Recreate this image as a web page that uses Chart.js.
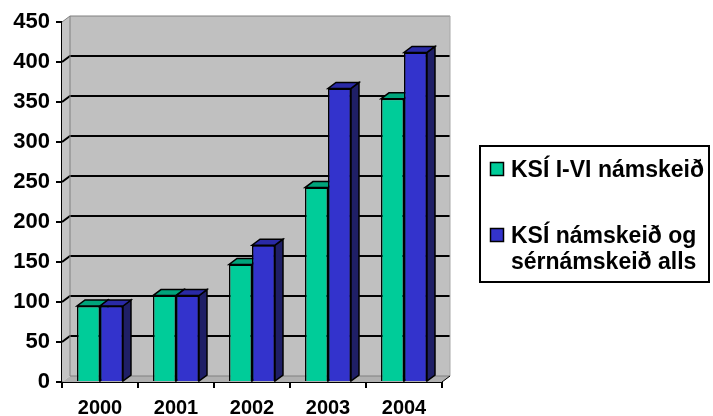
<!DOCTYPE html>
<html>
<head>
<meta charset="utf-8">
<script src="https://cdn.jsdelivr.net/npm/chart.js@4.4.0/dist/chart.umd.min.js"></script>
<style>
  body { margin: 0; background: #fff; }
  canvas { display: block; }
</style>
</head>
<body>
<canvas id="chart" width="713" height="416"></canvas>
<script>
const years = ["2000", "2001", "2002", "2003", "2004"];
const ksiBasic = [95, 108, 147, 243, 354];
const ksiTotal = [95, 108, 171, 367, 412];
const seriesNames = ["KSÍ I-VI námskeið", ["KSÍ námskeið og", "sérnámskeið alls"]];

const frontColors = ["#00CC99", "#3333CC"];
const topColors = ["#00A47B", "#2A2AA6"];
const sideColors = ["#007A5C", "#1F1F66"];

const DX = 8; // 3d depth
const DY = 6;
const FONT = "Arial, 'Liberation Sans', sans-serif";

function poly(ctx, pts, fill, stroke, lw) {
  ctx.beginPath();
  ctx.moveTo(pts[0][0], pts[0][1]);
  for (let i = 1; i < pts.length; i++) ctx.lineTo(pts[i][0], pts[i][1]);
  ctx.closePath();
  if (fill) { ctx.fillStyle = fill; ctx.fill(); }
  if (stroke) { ctx.strokeStyle = stroke; ctx.lineWidth = lw || 1; ctx.stroke(); }
}

function faces(ctx, bar, k) {
  const l = bar.x - bar.width / 2;
  const r = bar.x + bar.width / 2;
  const t = bar.y;
  const b = bar.base;
  poly(ctx, [[r, t], [r + DX, t - DY], [r + DX, b - DY], [r, b]], sideColors[k], "#000", 1.5);
  poly(ctx, [[l, t], [r, t], [r + DX, t - DY], [l + DX, t - DY]], topColors[k], "#000", 1.5);
}

// walls, floor and grid lines on the back wall
const wallsPlugin = {
  id: "walls",
  beforeDatasetsDraw(chart) {
    const { ctx, chartArea: a, scales } = chart;
    const y = scales.y;
    ctx.save();
    poly(ctx, [[a.left + DX, a.top - DY], [a.right + DX, a.top - DY], [a.right + DX, a.bottom - DY], [a.left + DX, a.bottom - DY]], "#C0C0C0");
    poly(ctx, [[a.left, a.top], [a.left + DX, a.top - DY], [a.left + DX, a.bottom - DY], [a.left, a.bottom]], "#C4C4C4");
    poly(ctx, [[a.left, a.bottom], [a.right, a.bottom], [a.right + DX, a.bottom - DY], [a.left + DX, a.bottom - DY]], "#B0B0B0");

    y.ticks.forEach((t) => {
      const py = y.getPixelForValue(t.value);
      if (t.value === 0 || t.value === y.max) return;
      ctx.beginPath();
      ctx.moveTo(a.left, py);
      ctx.lineTo(a.left + DX, py - DY);
      ctx.lineTo(a.right + DX, py - DY);
      ctx.strokeStyle = "#000";
      ctx.lineWidth = 2;
      ctx.stroke();
    });

    // wall edges
    ctx.strokeStyle = "#808080";
    ctx.lineWidth = 1;
    ctx.beginPath();
    ctx.moveTo(a.left, a.top);
    ctx.lineTo(a.left + DX, a.top - DY);
    ctx.lineTo(a.right + DX, a.top - DY);
    ctx.moveTo(a.left + DX, a.top - DY);
    ctx.lineTo(a.left + DX, a.bottom - DY);
    ctx.lineTo(a.right + DX, a.bottom - DY);
    ctx.stroke();
    ctx.strokeStyle = "#A8A8A8";
    ctx.beginPath();
    ctx.moveTo(a.right + DX, a.top - DY);
    ctx.lineTo(a.right + DX, a.bottom - DY);
    ctx.stroke();
    ctx.strokeStyle = "#000";
    ctx.beginPath();
    ctx.moveTo(a.right, a.bottom);
    ctx.lineTo(a.right + DX, a.bottom - DY);
    ctx.stroke();
    ctx.restore();
  },
  // top and side faces; blue front is redrawn so it sits over the green side
  afterDatasetsDraw(chart) {
    const { ctx } = chart;
    const green = chart.getDatasetMeta(0).data;
    const blue = chart.getDatasetMeta(1).data;
    ctx.save();
    green.forEach((g, n) => {
      faces(ctx, g, 0);
      blue[n].draw(ctx);
      faces(ctx, blue[n], 1);
    });
    ctx.restore();
  },
  afterDraw(chart) {
    const { ctx } = chart;
    ctx.save();
    ctx.fillStyle = "#fff";
    ctx.fillRect(480, 146, 229, 136);
    ctx.strokeStyle = "#000";
    ctx.lineWidth = 2;
    ctx.strokeRect(480, 146, 229, 136);
    ctx.font = "bold 23px " + FONT;
    ctx.textBaseline = "alphabetic";
    const boxTops = [162, 228];
    seriesNames.forEach((name, k) => {
      ctx.fillStyle = frontColors[k];
      ctx.fillRect(490.5, boxTops[k] + 0.5, 13, 13);
      ctx.lineWidth = 1.5;
      ctx.strokeRect(490.5, boxTops[k] + 0.5, 13, 13);
      ctx.fillStyle = "#000";
      const lines = Array.isArray(name) ? name : [name];
      lines.forEach((ln, j) => ctx.fillText(ln, 511, boxTops[k] + 15 + j * 26));
    });
    ctx.restore();
  },
};

new Chart(document.getElementById("chart"), {
  type: "bar",
  data: {
    labels: years,
    datasets: [
      {
        label: seriesNames[0],
        data: ksiBasic,
        backgroundColor: frontColors[0],
        borderColor: "#000",
        borderWidth: 1.5,
        categoryPercentage: 0.605,
        barPercentage: 1,
      },
      {
        label: seriesNames[1].join(" "),
        data: ksiTotal,
        backgroundColor: frontColors[1],
        borderColor: "#000",
        borderWidth: 1.5,
        categoryPercentage: 0.605,
        barPercentage: 1,
      },
    ],
  },
  options: {
    responsive: false,
    animation: false,
    layout: { padding: { top: 22, right: 271, left: 0, bottom: 0 } },
    plugins: {
      legend: { display: false },
      tooltip: { enabled: false },
    },
    scales: {
      x: {
        afterFit: (s) => { s.height = 34; },
        grid: { drawOnChartArea: false, drawTicks: true, tickLength: 6, color: "#000", lineWidth: 2 },
        border: { display: true, color: "#000", width: 2 },
        ticks: { color: "#000", padding: 8, font: { family: FONT, size: 20, weight: "bold" } },
      },
      y: {
        min: 0,
        max: 450,
        afterFit: (s) => { s.width = 62; },
        grid: { drawOnChartArea: false, drawTicks: true, tickLength: 6, color: "#000", lineWidth: 2 },
        border: { display: true, color: "#000", width: 2 },
        ticks: { stepSize: 50, color: "#000", padding: 6, font: { family: FONT, size: 22, weight: "bold" } },
      },
    },
  },
  plugins: [wallsPlugin],
});
</script>
</body>
</html>
